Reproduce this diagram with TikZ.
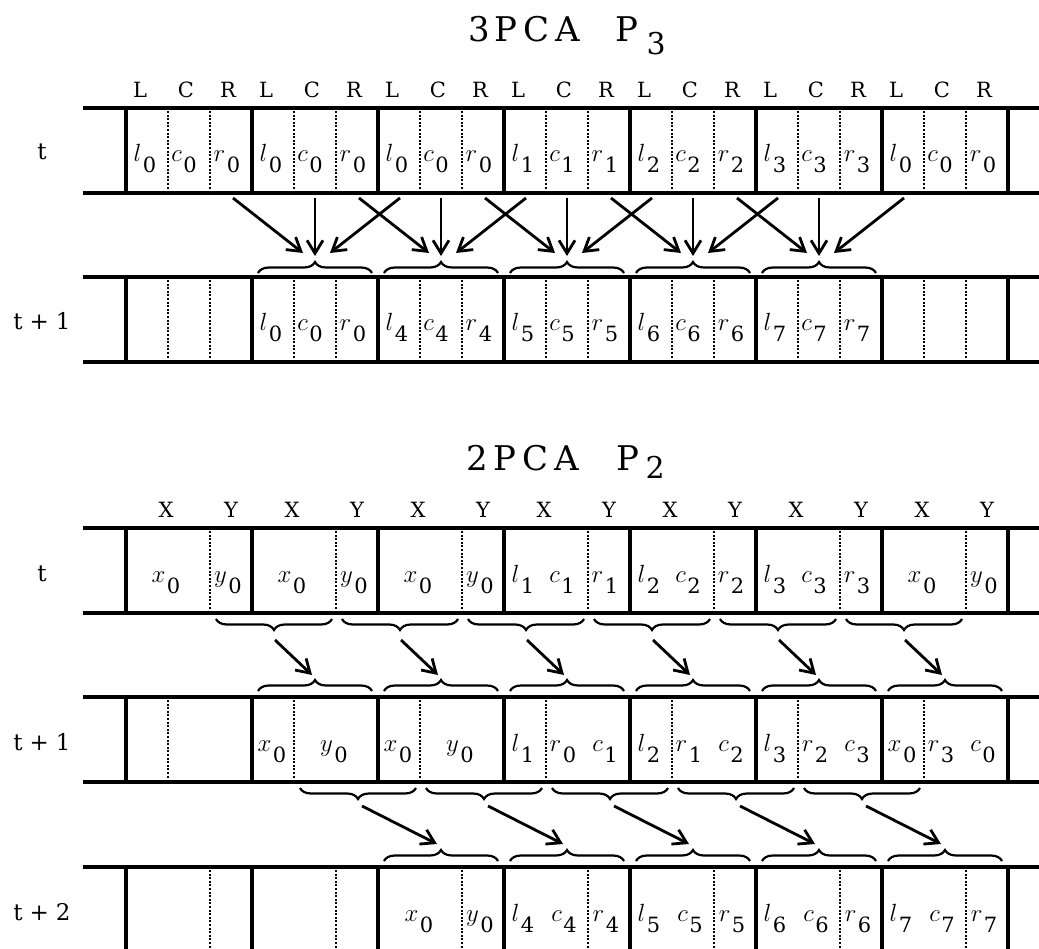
\documentclass[tikz,border=0pt]{standalone}
\usepackage{fontspec}
\setmainfont{DejaVu Serif}
\usetikzlibrary{arrows.meta,decorations.pathreplacing}
\newcommand\cv[2]{{\fontsize{29}{29}\selectfont$#1$}\kern1.5pt\raisebox{-11pt}{\fontsize{21}{21}\selectfont #2}}
\begin{document}
\begin{tikzpicture}[x=1pt,y=-1pt,
  thickline/.style={line width=4.5pt},
  dotline/.style={line width=2.4pt, dash pattern=on 2pt off 1.6pt},
  arr/.style={line width=2.8pt, -{Straight Barb[length=13pt,width=16pt]}},
  brcup/.style={line width=2.2pt, decorate, decoration={brace, amplitude=11pt}},
  brcdn/.style={line width=2.2pt, decorate, decoration={brace, amplitude=11pt, mirror}},
  lab/.style={font=\fontsize{21}{21}\selectfont, inner sep=0pt, anchor=base},
  rlab/.style={font=\fontsize{23}{23}\selectfont, inner sep=0pt, anchor=base},
  cell/.style={anchor=base, inner sep=0pt},
  ttl/.style={font=\fontsize{34}{34}\selectfont, anchor=base west, inner sep=0pt},
]
\clip (0,0) rectangle (1039,949);
\fill[white] (0,0) rectangle (1039,949);

% titles
\node[ttl] (title3) at (468,42) {3\hspace{4.5pt}P\hspace{6pt}C\hspace{6pt}A\hspace{36pt}P\hspace{8pt}\raisebox{-13pt}{\fontsize{30}{30}\selectfont 3}};
\node[ttl] (title2) at (466,470) {2\hspace{5.5pt}P\hspace{6pt}C\hspace{6pt}A\hspace{38pt}P\hspace{6pt}\raisebox{-9pt}{\fontsize{30}{30}\selectfont 2}};

% row frames
\foreach \ty in {108,277,528,697,867} {
  \draw[thickline] (83,\ty) -- (1045,\ty);
  \draw[thickline] (83,\ty+85) -- (1045,\ty+85);
  \foreach \i in {0,...,7} \draw[thickline] (126+126*\i,\ty) -- (126+126*\i,\ty+85);
}
% dotted separators
\foreach \i in {0,...,6} {
  \draw[dotline] (168+126*\i,111) -- (168+126*\i,190);
  \draw[dotline] (210+126*\i,111) -- (210+126*\i,190);
  \draw[dotline] (168+126*\i,280) -- (168+126*\i,359);
  \draw[dotline] (210+126*\i,280) -- (210+126*\i,359);
  \draw[dotline] (210+126*\i,531) -- (210+126*\i,610);
  \draw[dotline] (168+126*\i,700) -- (168+126*\i,779);
  \draw[dotline] (210+126*\i,870) -- (210+126*\i,952);
}

% row labels
\node[rlab] (rt1) at (42,160) {t};
\node[rlab] (rt2) at (42,330) {t\hspace{7pt}+\hspace{7pt}1};
\node[rlab] (rb1) at (42,581) {t};
\node[rlab] (rb2) at (42,750) {t\hspace{7pt}+\hspace{7pt}1};
\node[rlab] (rb3) at (42,920) {t\hspace{7pt}+\hspace{7pt}2};

% column labels
\foreach \i in {0,...,6} {
  \node[lab] (L\i) at (140+126*\i,98) {L};
  \node[lab] (C\i) at (186+126*\i,98) {C};
  \node[lab] (R\i) at (228+126*\i,98) {R};
  \node[lab] (X\i) at (166+126*\i,517) {X};
  \node[lab] (Y\i) at (231+126*\i,517) {Y};
}

% 3PCA row t
\foreach \i/\k in {0/0,1/0,2/0,3/1,4/2,5/3,6/0} {
  \node[cell] (tl\i) at (145+126*\i,162) {\cv{l}{\k}};
  \node[cell] (tc\i) at (184+126*\i,162) {\cv{c}{\k}};
  \node[cell] (tr\i) at (227+126*\i,162) {\cv{r}{\k}};
}
% 3PCA row t+1
\foreach \i/\k in {1/0,2/4,3/5,4/6,5/7} {
  \node[cell] (ul\i) at (145+126*\i,331) {\cv{l}{\k}};
  \node[cell] (uc\i) at (184+126*\i,331) {\cv{c}{\k}};
  \node[cell] (ur\i) at (227+126*\i,331) {\cv{r}{\k}};
}
% 3PCA braces and arrows
\foreach \k in {1,...,5} {
  \draw[brcup] (258+126*\k-126,273) -- (372+126*\k-126,273);
  \coordinate (pl\k) at (233+126*\k-126,198);
  \coordinate (pc\k) at (315+126*\k-126,198);
  \coordinate (pr\k) at (400+126*\k-126,198);
  \coordinate (ql\k) at (303+126*\k-126,253);
  \coordinate (qc\k) at (315+126*\k-126,256);
  \coordinate (qr\k) at (330+126*\k-126,253);
  \draw[arr] (pl\k) -- (ql\k);
  \draw[arr] (pc\k) -- (qc\k);
  \draw[arr] (pr\k) -- (qr\k);
}

% 2PCA row t
\foreach \i in {0,1,2,6} {
  \node[cell] (bx\i) at (166+126*\i,582) {\cv{x}{0}};
  \node[cell] (by\i) at (228+126*\i,582) {\cv{y}{0}};
}
\foreach \i/\k in {3/1,4/2,5/3} {
  \node[cell] (bl\i) at (145+126*\i,582) {\cv{l}{\k}};
  \node[cell] (bc\i) at (184+126*\i,582) {\cv{c}{\k}};
  \node[cell] (br\i) at (227+126*\i,582) {\cv{r}{\k}};
}
% 2PCA row t+1
\foreach \i in {1,2} {
  \node[cell] (mx\i) at (146+126*\i,751) {\cv{x}{0}};
  \node[cell] (my\i) at (208+126*\i,751) {\cv{y}{0}};
}
\foreach \i/\k/\j in {3/1/0,4/2/1,5/3/2} {
  \node[cell] (ml\i) at (145+126*\i,751) {\cv{l}{\k}};
  \node[cell] (mr\i) at (185+126*\i,751) {\cv{r}{\j}};
  \node[cell] (mc\i) at (227+126*\i,751) {\cv{c}{\k}};
}
\node[cell] (mx6) at (146+756,751) {\cv{x}{0}};
\node[cell] (mr6) at (185+756,751) {\cv{r}{3}};
\node[cell] (mc6) at (227+756,751) {\cv{c}{0}};
% 2PCA row t+2
\node[cell] (nx2) at (419,921) {\cv{x}{0}};
\node[cell] (ny2) at (480,921) {\cv{y}{0}};
\foreach \i/\k in {3/4,4/5,5/6,6/7} {
  \node[cell] (nl\i) at (145+126*\i,921) {\cv{l}{\k}};
  \node[cell] (nc\i) at (186+126*\i,921) {\cv{c}{\k}};
  \node[cell] (nr\i) at (228+126*\i,921) {\cv{r}{\k}};
}

% 2PCA braces t -> t+1
\foreach \i in {0,...,5} {
  \draw[brcdn] (216+126*\i,619) -- (332+126*\i,619);
  \draw[brcup] (258+126*\i,691) -- (372+126*\i,691);
  \coordinate (da\i) at (275+126*\i,640);
  \coordinate (db\i) at (312+126*\i,675);
  \draw[arr] (da\i) -- (db\i);
}
% 2PCA braces t+1 -> t+2
\foreach \i in {0,...,4} {
  \draw[brcdn] (300+126*\i,788) -- (416+126*\i,788);
  \draw[brcup] (384+126*\i,861) -- (498+126*\i,861);
  \coordinate (ea\i) at (362+126*\i,806);
  \coordinate (eb\i) at (437+126*\i,844);
  \draw[arr] (ea\i) -- (eb\i);
}
\end{tikzpicture}
\end{document}
